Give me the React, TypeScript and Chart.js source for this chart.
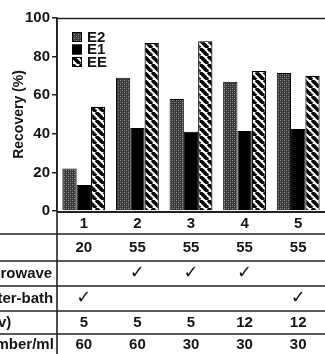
import { useEffect, useRef } from 'react';
import { Chart, registerables } from 'chart.js';

Chart.register(...registerables);

// Recovery of each analyte per extraction condition
const categories = ['1', '2', '3', '4', '5'];
const e2Recovery = [22, 69, 58, 67, 71.5];
const e1Recovery = [13.5, 43, 41, 41.5, 42.5];
const eeRecovery = [54, 87, 88, 72.5, 70];
const seriesNames = ['E2', 'E1', 'EE'];

// Condition table under the bars
const rowLabels = ['°C', 'Microwave', 'Water-bath', '% (v)', 'Number/ml'];
const temperatureRow = ['20', '55', '55', '55', '55'];
const microwaveRow = [false, true, true, true, false];
const waterBathRow = [true, false, false, false, true];
const volumeRow = ['5', '5', '5', '12', '12'];
const densityRow = ['60', '60', '30', '30', '30'];

const FONT = "'Liberation Sans', Arial, sans-serif";
const INK = '#151515';

function stipplePattern(): CanvasPattern | string {
  const c = document.createElement('canvas');
  c.width = 4;
  c.height = 4;
  const g = c.getContext('2d');
  if (!g) return '#555';
  g.fillStyle = '#383838';
  g.fillRect(0, 0, 4, 4);
  g.fillStyle = '#959595';
  g.fillRect(0, 0, 1, 1);
  g.fillRect(2, 2, 1, 1);
  g.fillStyle = '#666';
  g.fillRect(2, 0, 1, 1);
  g.fillRect(0, 2, 1, 1);
  return g.createPattern(c, 'repeat') || '#555';
}

function stripePattern(): CanvasPattern | string {
  const p = 8;
  const c = document.createElement('canvas');
  c.width = p;
  c.height = p;
  const g = c.getContext('2d');
  if (!g) return '#777';
  g.fillStyle = '#fff';
  g.fillRect(0, 0, p, p);
  g.strokeStyle = '#000';
  g.lineWidth = 3.6;
  for (let k = -1; k <= 1; k++) {
    g.beginPath();
    g.moveTo(k * p, 0);
    g.lineTo(k * p + p, p);
    g.stroke();
  }
  return g.createPattern(c, 'repeat') || '#777';
}

// Draws the legend, the frame lines and the condition table
const tablePlugin = {
  id: 'conditionTable',
  afterDraw(chart: any) {
    const { ctx, chartArea } = chart;
    const { left, top, bottom } = chartArea;
    const W = chart.width;
    const H = chart.height;
    const x = chart.scales.x;

    ctx.save();
    ctx.strokeStyle = '#222';
    ctx.lineWidth = 1.6;

    // top frame line
    ctx.beginPath();
    ctx.moveTo(left, top + 0.5);
    ctx.lineTo(W, top + 0.5);
    ctx.stroke();

    // vertical divider continuing below the axis
    ctx.beginPath();
    ctx.moveTo(left, top);
    ctx.lineTo(left, H);
    ctx.stroke();

    // row boundaries
    const rowHeights = [22, 27, 25, 25, 23, 21];
    const bounds: number[] = [bottom + 1];
    rowHeights.forEach((h) => bounds.push(bounds[bounds.length - 1] + h));

    ctx.lineWidth = 2;
    ctx.beginPath();
    ctx.moveTo(left, bounds[0]);
    ctx.lineTo(W, bounds[0]);
    ctx.stroke();
    ctx.lineWidth = 1.5;
    for (let i = 1; i < bounds.length - 1; i++) {
      ctx.beginPath();
      ctx.moveTo(0, bounds[i]);
      ctx.lineTo(W, bounds[i]);
      ctx.stroke();
    }

    const rows: string[][] = [
      categories,
      temperatureRow,
      microwaveRow.map((b) => (b ? '✓' : '')),
      waterBathRow.map((b) => (b ? '✓' : '')),
      volumeRow,
      densityRow,
    ];

    ctx.fillStyle = INK;
    ctx.textBaseline = 'middle';
    ctx.textAlign = 'center';
    rows.forEach((row, r) => {
      const cy = (bounds[r] + bounds[r + 1]) / 2 + 0.5;
      row.forEach((txt, i) => {
        if (!txt) return;
        const cx = x.getPixelForValue(i);
        if (txt === '✓') {
          ctx.font = "18px 'DejaVu Sans'";
          ctx.fillText(txt, cx, cy - 1);
        } else {
          ctx.font = `bold 15px ${FONT}`;
          ctx.fillText(txt, cx, cy);
        }
      });
    });

    // row headings (left column runs past the page edge)
    ctx.textAlign = 'left';
    ctx.font = `bold 15px ${FONT}`;
    rowLabels.forEach((label, r) => {
      const cy = (bounds[r + 1] + bounds[r + 2]) / 2 + 0.5;
      ctx.fillText(label, -24.5, cy);
    });

    // legend
    const boxX = left + 15;
    const boxSize = 10;
    ctx.font = `bold 15px ${FONT}`;
    chart.data.datasets.forEach((ds: any, i: number) => {
      const cy = top + 19 + i * 12.5;
      ctx.fillStyle = ds.backgroundColor;
      ctx.fillRect(boxX, cy - boxSize / 2, boxSize, boxSize);
      ctx.strokeStyle = '#000';
      ctx.lineWidth = 1;
      ctx.strokeRect(boxX + 0.5, cy - boxSize / 2 + 0.5, boxSize - 1, boxSize - 1);
      ctx.fillStyle = INK;
      ctx.fillText(ds.label, boxX + 15, cy + 0.5);
    });

    ctx.restore();
  },
};

export default function App() {
  const canvasRef = useRef<HTMLCanvasElement | null>(null);

  useEffect(() => {
    const canvas = canvasRef.current;
    if (!canvas) return;
    const stipple = stipplePattern();
    const stripes = stripePattern();

    const chart = new Chart(canvas, {
      type: 'bar',
      data: {
        labels: categories,
        datasets: [
          { label: seriesNames[0], data: e2Recovery, backgroundColor: stipple as any, borderColor: '#000', borderWidth: 1 },
          { label: seriesNames[1], data: e1Recovery, backgroundColor: '#000', borderColor: '#000', borderWidth: 1 },
          { label: seriesNames[2], data: eeRecovery, backgroundColor: stripes as any, borderColor: '#000', borderWidth: 1.2 },
        ],
      },
      options: {
        animation: false,
        responsive: true,
        maintainAspectRatio: false,
        layout: { padding: { top: 18, right: 0, bottom: 143, left: 0 } },
        datasets: { bar: { categoryPercentage: 0.8, barPercentage: 1.0 } },
        plugins: { legend: { display: false }, tooltip: { enabled: false } },
        scales: {
          x: { display: false, offset: true },
          y: {
            min: 0,
            max: 100,
            afterFit(axis: any) {
              axis.width = 57;
            },
            ticks: {
              stepSize: 20,
              color: INK,
              padding: 2,
              font: { family: FONT, size: 15, weight: 'bold' },
            },
            grid: {
              drawOnChartArea: false,
              drawTicks: true,
              tickLength: 5,
              color: '#222',
              lineWidth: 1.5,
            },
            border: { display: true, color: '#222', width: 1.6 },
            title: {
              display: true,
              text: 'Recovery (%)',
              color: INK,
              font: { family: FONT, size: 14, weight: 'bold' },
              padding: { top: 11, bottom: 0 },
            },
          },
        },
      },
      plugins: [tablePlugin],
    });

    return () => chart.destroy();
  }, []);

  return (
    <div style={{ position: 'absolute', left: 0, top: 0, width: 325, height: 354, background: '#fff' }}>
      <canvas ref={canvasRef} />
    </div>
  );
}
